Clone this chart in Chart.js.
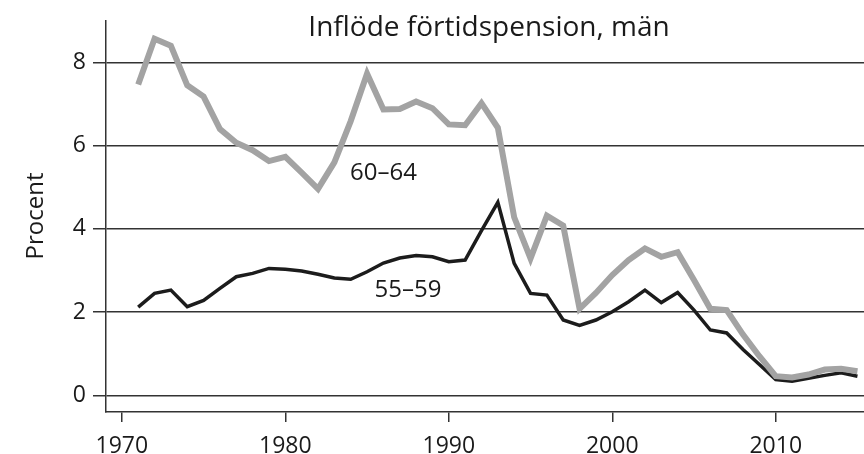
<!DOCTYPE html>
<html>
<head>
<meta charset="utf-8">
<script src="https://cdn.jsdelivr.net/npm/chart.js@4/dist/chart.umd.min.js"></script>
<style>
  html, body { margin: 0; padding: 0; background: #fff; }
  #wrap { width: 864px; height: 454px; position: relative; }
</style>
</head>
<body>
<div id="wrap"><canvas id="c" width="864" height="454"></canvas></div>
<script>
const titleText = 'Inflöde förtidspension, män';
const yAxisTitle = 'Procent';
const years = [1971,1972,1973,1974,1975,1976,1977,1978,1979,1980,
               1981,1982,1983,1984,1985,1986,1987,1988,1989,1990,
               1991,1992,1993,1994,1995,1996,1997,1998,1999,2000,
               2001,2002,2003,2004,2005,2006,2007,2008,2009,2010,
               2011,2012,2013,2014,2015];
const men6064 = [7.47,8.57,8.40,7.45,7.18,6.40,6.07,5.89,5.63,5.73,
                 5.35,4.96,5.60,6.59,7.73,6.87,6.88,7.06,6.90,6.51,
                 6.49,7.02,6.43,4.28,3.29,4.32,4.08,2.08,2.46,2.89,
                 3.25,3.53,3.33,3.44,2.77,2.08,2.05,1.46,0.94,0.46,
                 0.43,0.50,0.62,0.64,0.58];
const men5559 = [2.12,2.45,2.53,2.13,2.28,2.57,2.85,2.93,3.05,3.03,
                 2.99,2.91,2.82,2.79,2.97,3.18,3.30,3.36,3.33,3.21,
                 3.25,3.96,4.64,3.17,2.45,2.41,1.81,1.68,1.81,2.01,
                 2.25,2.53,2.23,2.47,2.05,1.57,1.50,1.10,0.74,0.38,
                 0.34,0.41,0.48,0.54,0.46];
const xTickValues = [1970,1980,1990,2000,2010];
const yTickValues = [0,2,4,6,8];
const seriesLabels = ['60–64','55–59'];
// label anchor positions in data units (year, percent)
const labelYears = [1986.0, 1987.5];
const labelValues = [5.35, 2.53];

const FONT = '"Open Sans", "DejaVu Sans", sans-serif';
const TEXT = '#1a1a1a';

const toPts = (xs, ys) => xs.map((x, i) => ({ x: x, y: ys[i] }));

const annotate = {
  id: 'annotate',
  afterDraw(chart) {
    const ctx = chart.ctx;
    const xs = chart.scales.x, ys = chart.scales.y;
    ctx.save();
    ctx.fillStyle = TEXT;
    ctx.font = '28px ' + FONT;
    ctx.textAlign = 'center';
    ctx.textBaseline = 'alphabetic';
    ctx.fillText(titleText, 489, 36);
    ctx.font = '24px ' + FONT;
    ctx.textBaseline = 'middle';
    seriesLabels.forEach((t, i) => {
      ctx.fillText(t, xs.getPixelForValue(labelYears[i]), ys.getPixelForValue(labelValues[i]));
    });
    ctx.translate(36, 216);
    ctx.rotate(-Math.PI / 2);
    ctx.font = '24px ' + FONT;
    ctx.fillText(yAxisTitle, 0, 0);
    ctx.restore();
  }
};

new Chart(document.getElementById('c'), {
  type: 'line',
  data: {
    datasets: [
      {
        label: seriesLabels[0],
        data: toPts(years, men6064),
        borderColor: '#a3a3a3',
        borderWidth: 6,
        pointRadius: 0,
        tension: 0,
        order: 1
      },
      {
        label: seriesLabels[1],
        data: toPts(years, men5559),
        borderColor: '#1c1c1c',
        borderWidth: 3.5,
        pointRadius: 0,
        tension: 0,
        order: 2
      }
    ]
  },
  options: {
    responsive: false,
    animation: false,
    devicePixelRatio: 1,
    layout: { padding: { top: 20, right: 0, bottom: 0, left: 0 } },
    plugins: {
      legend: { display: false },
      title: { display: false },
      tooltip: { enabled: false }
    },
    scales: {
      x: {
        type: 'linear',
        min: 1969.03,
        max: 2015.4,
        afterBuildTicks: s => { s.ticks = xTickValues.map(v => ({ value: v })); },
        afterFit: s => { s.height = 42; },
        grid: {
          drawOnChartArea: false,
          drawTicks: true,
          tickLength: 10,
          color: '#333',
          lineWidth: 1.5
        },
        border: { display: true, color: '#333', width: 1.5 },
        ticks: {
          color: TEXT,
          font: { family: FONT, size: 23 },
          padding: 11,
          maxRotation: 0,
          callback: v => String(v)
        }
      },
      y: {
        type: 'linear',
        min: -0.4,
        max: 9.0,
        afterBuildTicks: s => { s.ticks = yTickValues.map(v => ({ value: v })); },
        afterFit: s => { s.width = 106; },
        grid: {
          drawOnChartArea: true,
          drawTicks: true,
          tickLength: 13,
          color: '#333',
          lineWidth: 1.5
        },
        border: { display: true, color: '#333', width: 1.5 },
        ticks: {
          color: TEXT,
          font: { family: FONT, size: 23 },
          padding: 7,
          callback: v => String(v)
        }
      }
    }
  },
  plugins: [annotate]
});
</script>
</body>
</html>
